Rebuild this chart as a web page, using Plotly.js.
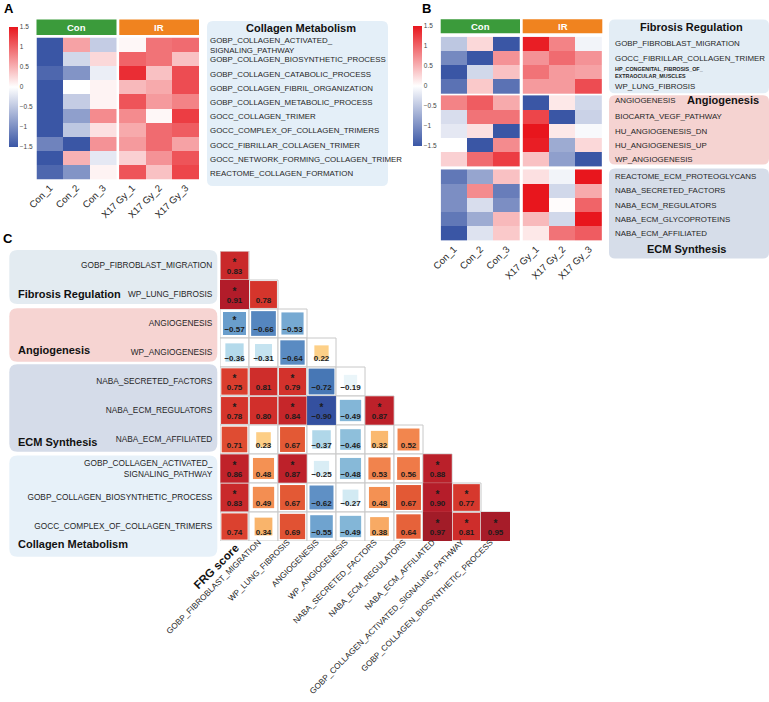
<!DOCTYPE html>
<html><head><meta charset="utf-8">
<script src="https://cdn.plot.ly/plotly-3.0.1.min.js"></script>
<style>html,body{margin:0;padding:0;background:#fff}#chart{width:769px;height:702px}</style>
</head><body><div id="chart"></div>
<script>
const W = 769, H = 702;
const FONT = '"Liberation Sans", Arial, sans-serif';

// ---------- Panel A data ----------
const samples = ['Con_1','Con_2','Con_3','X17 Gy_1','X17 Gy_2','X17 Gy_3'];
const groupNames = ['Con','IR'];
const aTitle = 'Collagen Metabolism';
const aPathways = [
  'GOBP_COLLAGEN_ACTIVATED_<br>SIGNALING_PATHWAY',
  'GOBP_COLLAGEN_BIOSYNTHETIC_PROCESS',
  'GOBP_COLLAGEN_CATABOLIC_PROCESS',
  'GOBP_COLLAGEN_FIBRIL_ORGANIZATION',
  'GOBP_COLLAGEN_METABOLIC_PROCESS',
  'GOCC_COLLAGEN_TRIMER',
  'GOCC_COMPLEX_OF_COLLAGEN_TRIMERS',
  'GOCC_FIBRILLAR_COLLAGEN_TRIMER',
  'GOCC_NETWORK_FORMING_COLLAGEN_TRIMER',
  'REACTOME_COLLAGEN_FORMATION'
];
const aValues = [
  [-1.50, 0.60,-0.45, 0.05, 0.90, 0.95],
  [-1.50,-0.35, 0.25, 1.00, 0.90, 0.40],
  [-1.35,-0.95,-0.15, 1.35, 0.40, 1.15],
  [-1.50, 0.00, 0.08, 0.45, 0.55, 1.15],
  [-1.50,-0.45, 0.08, 1.10, 0.65, 0.80],
  [-1.50,-0.85, 0.75, 0.75, 0.05, 1.25],
  [-1.50,-0.50, 0.20, 0.55, 0.95, 1.05],
  [-1.10,-1.50, 0.70, 0.65, 0.95, 0.60],
  [-1.50, 0.50,-0.20, 0.30, 0.70, 1.10],
  [-1.35,-0.95, 0.08, 1.10, 0.40, 1.20]
];

// ---------- Panel B data ----------
const bGroupTitles = ['Fibrosis Regulation','Angiogenesis','ECM Synthesis'];
const bFibrosisPathways = ['GOBP_FIBROBLAST_MIGRATION','GOCC_FIBRILLAR_COLLAGEN_TRIMER','HP_CONGENITAL_FIBROSIS_OF_<br>EXTRAOCULAR_MUSCLES','WP_LUNG_FIBROSIS'];
const bFibrosisValues = [
  [-0.50, 0.25,-1.50, 1.45, 0.80,-0.10],
  [-1.05,-1.50, 0.70, 0.70, 0.95, 0.70],
  [-1.50,-0.35, 0.40, 0.90, 0.65, 0.60],
  [-1.25, 0.35,-1.25, 0.65, 0.65, 1.15]
];
const bAngioPathways = ['ANGIOGENESIS','BIOCARTA_VEGF_PATHWAY','HU_ANGIOGENESIS_DN','HU_ANGIOGENESIS_UP','WP_ANGIOGENESIS'];
const bAngioValues = [
  [ 0.80, 1.05, 0.55,-1.50, 0.15,-0.35],
  [-0.30, 0.90, 0.90, 1.20,-1.50,-0.40],
  [-0.20, 0.20,-1.50, 1.50, 0.15,-0.05],
  [ 0.00,-1.50, 0.75, 1.45,-0.75, 0.25],
  [ 0.30, 0.95, 1.25, 0.40,-0.85,-1.50]
];
const bEcmPathways = ['REACTOME_ECM_PROTEOGLYCANS','NABA_SECRETED_FACTORS','NABA_ECM_REGULATORS','NABA_ECM_GLYCOPROTEINS','NABA_ECM_AFFILIATED'];
const bEcmValues = [
  [-1.20,-0.80, 0.40, 0.20,-0.10, 1.50],
  [-1.00, 0.75,-1.15, 1.50,-0.35, 0.55],
  [-1.00,-0.30,-1.00, 1.50, 0.02, 1.00],
  [-1.20,-0.75, 0.45, 0.45,-0.35, 1.50],
  [-1.50,-0.25, 0.35, 0.15, 0.90, 1.05]
];

// ---------- Panel C data ----------
const cRows = ['GOBP_FIBROBLAST_MIGRATION','WP_LUNG_FIBROSIS','ANGIOGENESIS','WP_ANGIOGENESIS',
  'NABA_SECRETED_FACTORS','NABA_ECM_REGULATORS','NABA_ECM_AFFILIATED',
  'GOBP_COLLAGEN_ACTIVATED_<br>SIGNALING_PATHWAY','GOBP_COLLAGEN_BIOSYNTHETIC_PROCESS','GOCC_COMPLEX_OF_COLLAGEN_TRIMERS'];
const cCols = ['FRG score','GOBP_FIBROBLAST_MIGRATION','WP_LUNG_FIBROSIS','ANGIOGENESIS','WP_ANGIOGENESIS',
  'NABA_SECRETED_FACTORS','NABA_ECM_REGULATORS','NABA_ECM_AFFILIATED',
  'GOBP_COLLAGEN_ACTIVATED_SIGNALING_PATHWAY','GOBP_COLLAGEN_BIOSYNTHETIC_PROCESS'];
const cCorr = [
  [0.83],
  [0.91,0.78],
  [-0.57,-0.66,-0.53],
  [-0.36,-0.31,-0.64,0.22],
  [0.75,0.81,0.79,-0.72,-0.19],
  [0.78,0.80,0.84,-0.90,-0.49,0.87],
  [0.71,0.23,0.67,-0.37,-0.46,0.32,0.52],
  [0.86,0.48,0.87,-0.25,-0.48,0.53,0.56,0.88],
  [0.83,0.49,0.67,-0.62,-0.27,0.48,0.67,0.90,0.77],
  [0.74,0.34,0.69,-0.55,-0.49,0.38,0.64,0.97,0.81,0.95]
];
const cSig = [
  [1],
  [1,0],
  [1,0,0],
  [0,0,0,0],
  [1,0,1,0,0],
  [1,0,1,1,0,1],
  [0,0,0,0,0,0,0],
  [1,0,1,0,0,0,0,1],
  [1,0,0,0,0,0,0,1,1],
  [0,0,0,0,0,0,0,1,1,1]
];
const cGroupTitles = ['Fibrosis Regulation','Angiogenesis','ECM Synthesis','Collagen Metabolism'];

// ---------- helpers ----------
const px = x => x / W;
const py = y => 1 - y / H;
function rrect(x0, y0, x1, y1, r, color) {
  const P = (x, y) => px(x).toFixed(5) + ',' + py(y).toFixed(5);
  const path = 'M' + P(x0 + r, y0) + ' L' + P(x1 - r, y0) + ' Q' + P(x1, y0) + ' ' + P(x1, y0 + r) +
    ' L' + P(x1, y1 - r) + ' Q' + P(x1, y1) + ' ' + P(x1 - r, y1) +
    ' L' + P(x0 + r, y1) + ' Q' + P(x0, y1) + ' ' + P(x0, y1 - r) +
    ' L' + P(x0, y0 + r) + ' Q' + P(x0, y0) + ' ' + P(x0 + r, y0) + ' Z';
  return {type:'path', xref:'paper', yref:'paper', path:path, fillcolor:color, line:{width:0}, layer:'below'};
}
function rect(x0, y0, x1, y1, color) {
  return {type:'rect', xref:'paper', yref:'paper', x0:px(x0), x1:px(x1), y0:py(y1), y1:py(y0), fillcolor:color, line:{width:0}, layer:'below'};
}
function txt(text, x, y, o) {
  o = o || {};
  return Object.assign({text:text, xref:'paper', yref:'paper', x:px(x), y:py(y), showarrow:false,
    xanchor:o.xanchor || 'left', yanchor:'middle', align:o.align || 'left',
    font:{family:FONT, size:o.size || 8, color:o.color || '#262626', weight:o.weight || 'normal'}}, o.extra || {});
}
const heatScale = [[0,'#3a56a5'],[0.5,'#ffffff'],[1,'#e8161d']];
const cbTicks = [-1.5,-1,-0.5,0,0.5,1,1.5];
const cbText = cbTicks.map(v => (v < 0 ? '\u2212' : '') + Math.abs(v));
function colorbar(x, yc) {
  return {x:px(x), xanchor:'left', xref:'paper', y:py(yc), yanchor:'middle', yref:'paper',
    len:120, lenmode:'pixels', thickness:9, thicknessmode:'pixels', xpad:0, ypad:0,
    outlinewidth:0, ticks:'', tickvals:cbTicks, ticktext:cbText, tickfont:{family:FONT, size:6.5, color:'#444'}};
}
const conX = [0.5,1.5,2.5], irX = [3.6,4.6,5.6];
const sampleTicks = conX.concat(irX);

const traces = [];
const shapes = [];
const annotations = [];

// ---------- Panel A ----------
const aY = aPathways.map((_, i) => i + 0.5);
traces.push({type:'heatmap', x:conX, y:aY, z:aValues.map(r => r.slice(0,3)), colorscale:heatScale, zmin:-1.5, zmax:1.5,
  xaxis:'x', yaxis:'y', showscale:true, colorbar:colorbar(9, 87), hoverinfo:'skip'});
traces.push({type:'heatmap', x:irX, y:aY, z:aValues.map(r => r.slice(3)), colorscale:heatScale, zmin:-1.5, zmax:1.5,
  xaxis:'x', yaxis:'y', showscale:false, hoverinfo:'skip'});
shapes.push(rect(36.5, 19.5, 116.5, 35, '#3b9b3b'));
shapes.push(rect(119.3, 19.5, 199, 35, '#f0831f'));
annotations.push(txt(groupNames[0], 76.5, 27.5, {xanchor:'center', size:9.5, color:'#fff', weight:'bold'}));
annotations.push(txt(groupNames[1], 159, 27.5, {xanchor:'center', size:9.5, color:'#fff', weight:'bold'}));
shapes.push(rrect(207, 21, 388, 186, 6, '#e4eff8'));
annotations.push(txt(aTitle, 300.5, 28.5, {xanchor:'center', size:11, weight:'bold', color:'#111'}));
aPathways.forEach((p, i) => {
  annotations.push({text:p, xref:'paper', yref:'y', x:px(208), y:i + 0.5, yshift:-1, showarrow:false, xanchor:'left', yanchor:'middle', align:'left',
    font:{family:FONT, size:7.9, color:'#262626'}});
});
annotations.push(txt('A', 2, 9, {size:13, weight:'bold', color:'#000'}));

// ---------- Panel B ----------
const bBlocks = [
  {paths:bFibrosisPathways, vals:bFibrosisValues, start:0},
  {paths:bAngioPathways, vals:bAngioValues, start:4.12},
  {paths:bEcmPathways, vals:bEcmValues, start:9.32}
];
bBlocks.forEach((b, bi) => {
  const ys = b.paths.map((_, i) => b.start + i + 0.5);
  traces.push({type:'heatmap', x:conX, y:ys, z:b.vals.map(r => r.slice(0,3)), colorscale:heatScale, zmin:-1.5, zmax:1.5,
    xaxis:'x2', yaxis:'y2', showscale:bi === 0, colorbar:colorbar(412.5, 86), hoverinfo:'skip'});
  traces.push({type:'heatmap', x:irX, y:ys, z:b.vals.map(r => r.slice(3)), colorscale:heatScale, zmin:-1.5, zmax:1.5,
    xaxis:'x2', yaxis:'y2', showscale:false, hoverinfo:'skip'});
  b.paths.forEach((p, i) => {
    const isHP = p.indexOf('HP_') === 0;
    annotations.push({text:p, xref:'paper', yref:'y2', x:px(613), y:ys[i], yshift:(p === 'ANGIOGENESIS' ? 2 : 0), showarrow:false,
      xanchor:'left', yanchor:'middle', align:'left',
      font:{family:FONT, size:isHP ? 5.4 : 7.9, color:'#262626', weight:isHP ? 'bold' : 'normal'}});
  });
});
shapes.push(rect(440.7, 19.3, 520, 33.3, '#3b9b3b'));
shapes.push(rect(522.7, 19.3, 602.3, 33.3, '#f0831f'));
annotations.push(txt(groupNames[0], 480.3, 26.3, {xanchor:'center', size:9.5, color:'#fff', weight:'bold'}));
annotations.push(txt(groupNames[1], 562.5, 26.3, {xanchor:'center', size:9.5, color:'#fff', weight:'bold'}));
shapes.push(rrect(609, 19.5, 769, 93.3, 6, '#e3edf5'));
shapes.push(rrect(609, 95.3, 769, 164.5, 6, '#f5d3d1'));
shapes.push(rrect(609, 168.5, 769, 258.5, 6, '#d6dde9'));
annotations.push(txt(bGroupTitles[0], 691, 27, {xanchor:'center', size:11, weight:'bold', color:'#111'}));
annotations.push(txt(bGroupTitles[1], 761, 100.5, {xanchor:'right', size:11, weight:'bold', color:'#111'}));
annotations.push(txt(bGroupTitles[2], 686, 248.5, {xanchor:'center', size:11, weight:'bold', color:'#111'}));
annotations.push(txt('B', 420, 8.5, {size:13, weight:'bold', color:'#000'}));

// ---------- Panel C ----------
const cScale = [
  [0,'#27378f'],[0.05,'#34509f'],[0.14,'#4777b5'],[0.18,'#5a8bc2'],[0.225,'#6fa3cf'],[0.265,'#8abcd9'],
  [0.32,'#b4daeb'],[0.375,'#d9edf5'],[0.425,'#f6fafc'],[0.5,'#ffffff'],[0.56,'#fee9b8'],[0.61,'#fdd088'],
  [0.67,'#f9b46b'],[0.74,'#f49153'],[0.775,'#f07d4a'],[0.835,'#e35935'],[0.875,'#da3e2e'],[0.9,'#d12f2b'],
  [0.93,'#c0222a'],[0.955,'#b21c2a'],[0.985,'#a21c28'],[1,'#9a1a27']
];
const gx = [], gy = [], gv = [], gs = [], sx = [], sy = [], vt = [], vy = [];
cCorr.forEach((row, i) => row.forEach((v, j) => {
  gx.push(j); gy.push(i); gv.push(v);
  gs.push(29 * Math.min(1, 1.05 * Math.sqrt(Math.abs(v))));
  vt.push((v < 0 ? '\u2212' : '') + Math.abs(v).toFixed(2));
  vy.push(i + 0.21);
  if (cSig[i][j]) { sx.push(j); sy.push(i - 0.08); }
}));
traces.push({type:'scatter', mode:'markers', x:gx, y:gy, xaxis:'x3', yaxis:'y3', hoverinfo:'skip',
  marker:{symbol:'square', size:29, opacity:1, color:'#ffffff', line:{color:'#c8c8c8', width:1}}});
traces.push({type:'scatter', mode:'markers', x:gx, y:gy, xaxis:'x3', yaxis:'y3', hoverinfo:'skip',
  marker:{symbol:'square', size:gs, opacity:1, color:gv, colorscale:cScale, cmin:-1, cmax:1, showscale:false, line:{width:0}}});
traces.push({type:'scatter', mode:'text', x:gx, y:vy, text:vt, xaxis:'x3', yaxis:'y3', hoverinfo:'skip',
  textposition:'middle center', textfont:{family:FONT, size:8, color:'#1b1b1b', weight:'bold'}});
traces.push({type:'scatter', mode:'text', x:sx, y:sy, text:sx.map(() => '*'), xaxis:'x3', yaxis:'y3', hoverinfo:'skip',
  textposition:'middle center', textfont:{family:FONT, size:10, color:'#1b1b1b', weight:'bold'}});

shapes.push(rrect(9.3, 250, 217.3, 304, 8, '#e3ebf1'));
shapes.push(rrect(9.3, 308.3, 217.3, 361.7, 8, '#f6d4d2'));
shapes.push(rrect(9.3, 364.3, 217.3, 451.7, 8, '#d5dce9'));
shapes.push(rrect(9.3, 455.5, 217.3, 556.7, 8, '#e7f1f9'));
annotations.push(txt(cGroupTitles[0], 16, 294.3, {size:11, weight:'bold', color:'#111'}));
annotations.push(txt(cGroupTitles[1], 16, 350.3, {size:11, weight:'bold', color:'#111'}));
annotations.push(txt(cGroupTitles[2], 16, 442, {size:11, weight:'bold', color:'#111'}));
annotations.push(txt(cGroupTitles[3], 16, 544.3, {size:11, weight:'bold', color:'#111'}));
annotations.push(txt('C', 1, 239, {size:13, weight:'bold', color:'#000'}));
// the first column label is drawn larger and bold, rotated like the axis labels
annotations.push({text:'<b>' + cCols[0] + '</b>', xref:'x3', yref:'paper', x:0, xshift:-19, y:py(566.5), showarrow:false,
  textangle:-45, xanchor:'center', yanchor:'middle', font:{family:FONT, size:11.5, color:'#111'}});

const cColText = cCols.map((c, i) => i === 0 ? '' : c);

const axBase = {showgrid:false, zeroline:false, showline:false, fixedrange:true};
const layout = {
  width:W, height:H, margin:{l:0, r:0, t:0, b:0}, paper_bgcolor:'#ffffff', plot_bgcolor:'rgba(0,0,0,0)',
  showlegend:false, font:{family:FONT, color:'#262626'},
  xaxis: Object.assign({}, axBase, {domain:[px(36.5), px(199)], range:[0, 6.1], tickvals:sampleTicks, ticktext:samples,
    tickangle:-45, ticks:'', tickfont:{family:FONT, size:9.6, color:'#262626'}, anchor:'y'}),
  yaxis: Object.assign({}, axBase, {domain:[py(179.5), py(37.5)], range:[10, 0], visible:false, anchor:'x'}),
  xaxis2: Object.assign({}, axBase, {domain:[px(440.7), px(602.3)], range:[0, 6.1], tickvals:sampleTicks, ticktext:samples,
    tickangle:-45, ticks:'', tickfont:{family:FONT, size:9.6, color:'#262626'}, anchor:'y2'}),
  yaxis2: Object.assign({}, axBase, {domain:[py(240.7), py(36.7)], range:[14.32, 0], visible:false, anchor:'x2'}),
  xaxis3: Object.assign({}, axBase, {domain:[px(220), px(510)], range:[-0.5, 9.5], tickvals:cCols.map((_, i) => i), ticktext:cColText,
    tickangle:-45, ticks:'', ticklabelstandoff:-6, ticklabelshift:-5, tickfont:{family:FONT, size:8.2, color:'#262626'}, anchor:'y3'}),
  yaxis3: Object.assign({}, axBase, {domain:[py(541), py(251)], range:[9.5, -0.5], tickvals:cRows.map((_, i) => i), ticktext:cRows,
    ticks:'outside', ticklen:5, tickcolor:'rgba(0,0,0,0)', tickfont:{family:FONT, size:8.3, color:'#262626'}, anchor:'x3'}),
  shapes:shapes, annotations:annotations
};
Plotly.newPlot('chart', traces, layout, {staticPlot:true, displayModeBar:false});
</script></body></html>
